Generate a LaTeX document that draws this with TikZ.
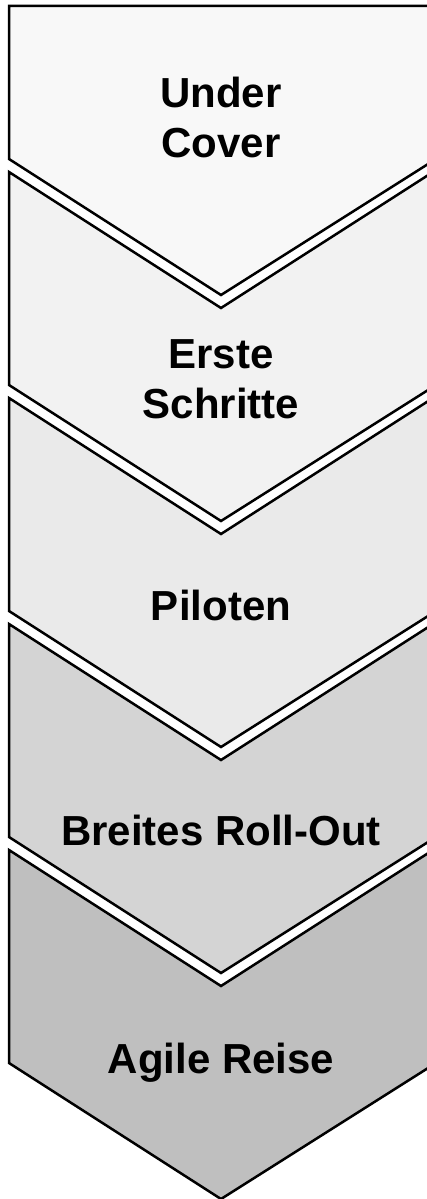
\documentclass[tikz,border=0pt]{standalone}
\usepackage{fontspec}
\setmainfont{Liberation Sans}
\definecolor{c1}{HTML}{F8F8F8}
\definecolor{c2}{HTML}{F2F2F2}
\definecolor{c3}{HTML}{EAEAEA}
\definecolor{c4}{HTML}{D4D4D4}
\definecolor{c5}{HTML}{BFBFBF}
\tikzset{
  chev/.style={draw=black, line width=2.5pt, line join=miter},
  lbl/.style={anchor=north, inner sep=0pt, align=center, text=black,
    font=\fontsize{42}{50}\selectfont\bfseries}
}
\begin{document}
\begin{tikzpicture}[x=1pt,y=-1pt]
\useasboundingbox (0,0) rectangle (427,1199);
\begin{scope}
\clip (0,0) rectangle (427,1199);
% first pentagon
\draw[chev, fill=c1] (9,6) -- (436,6) -- (436,159) -- (221,295) -- (9,159) -- cycle;
% chevrons
\foreach \t/\c in {172/c2, 398/c3, 624/c4, 850/c5}{
  \draw[chev, fill=\c] (9,\t) -- (221,\t+136) -- (433,\t) -- (436,\t) -- (436,\t+213)
     -- (221,\t+349) -- (9,\t+213) -- cycle;
}
\end{scope}
\node[lbl] (l1) at (221,77) {Under\\Cover};
\node[lbl] (l2) at (221,339) {Erste\\Schritte};
\node[lbl] (l3) at (221,590) {Piloten};
\node[lbl] (l4) at (221,815) {Breites Roll-Out};
\node[lbl] (l5) at (221,1043) {Agile Reise};
\end{tikzpicture}
\end{document}
